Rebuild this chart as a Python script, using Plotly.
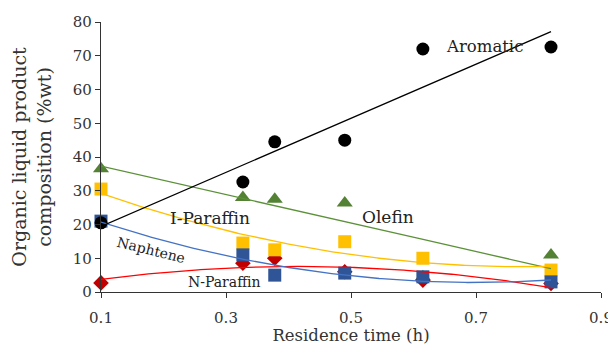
import numpy as np
import plotly.graph_objects as go

time_h = [0.1, 0.327, 0.378, 0.49, 0.615, 0.82]
aromatic = [20.5, 32.6, 44.5, 45.0, 72.0, 72.6]
olefin = [36.5, 28.0, 27.5, 26.4, 4.5, 11.0]
i_paraffin = [30.5, 14.5, 12.5, 14.9, 10.0, 6.5]
naphtene = [21.0, 11.0, 5.0, 5.6, 4.5, 3.0]
n_paraffin = [2.7, 8.5, 10.0, 6.0, 3.5, 2.5]

x_ticks = [0.1, 0.3, 0.5, 0.7, 0.9]
y_ticks = [0, 10, 20, 30, 40, 50, 60, 70, 80]

FONT = "DejaVu Serif, Liberation Serif, serif"

xf = np.linspace(min(time_h), max(time_h), 200)

def poly_fit(y, deg):
    return np.polyval(np.polyfit(np.array(time_h), np.array(y), deg), xf)

fig = go.Figure()

markers = [
    (olefin, dict(symbol="triangle-up", size=14, color="#548235")),
    (n_paraffin, dict(symbol="diamond", size=12, color="#C00000")),
    (i_paraffin, dict(symbol="square", size=13, color="#FFC000")),
    (naphtene, dict(symbol="square", size=13, color="#2F5597")),
    (aromatic, dict(symbol="circle", size=13, color="#000000")),
]
fits = [
    (poly_fit(olefin, 1), "#5B9138"),
    (poly_fit(i_paraffin, 2), "#FFC000"),
    (poly_fit(n_paraffin, 2), "#FF0000"),
    (poly_fit(naphtene, 2), "#4472C4"),
    (poly_fit(aromatic, 1), "#000000"),
]

for y, mk in markers:
    fig.add_trace(go.Scatter(x=time_h, y=y, mode="markers", marker=mk, showlegend=False, cliponaxis=False))
for fit, lc in fits:
    fig.add_trace(go.Scatter(x=xf, y=fit, mode="lines", line=dict(color=lc, width=1.3), showlegend=False, hoverinfo="skip"))

ann = [
    dict(x=0.714, y=72.8, text="Aromatic", size=16.5, angle=0),
    dict(x=0.559, y=22.3, text="Olefin", size=17, angle=0),
    dict(x=0.274, y=21.9, text="I-Paraffin", size=17, angle=0),
    dict(x=0.18, y=12.3, text="Naphtene", size=14, angle=14),
    dict(x=0.297, y=3.0, text="N-Paraffin", size=14, angle=0),
]
for a in ann:
    fig.add_annotation(x=a["x"], y=a["y"], text=a["text"], showarrow=False, textangle=a["angle"],
                       font=dict(family=FONT, size=a["size"], color="#222222"))

fig.update_layout(
    width=608, height=337,
    margin=dict(l=93, r=15, t=14, b=53),
    plot_bgcolor="white", paper_bgcolor="white",
    font=dict(family=FONT, size=15, color="#333333"),
)
fig.update_xaxes(range=[0.1, 0.9], tickvals=x_ticks, ticktext=[str(v) for v in x_ticks], automargin=False,
                 showline=True, linecolor="#333333", linewidth=1.2, ticks="outside", ticklen=5,
                 tickcolor="#333333", showgrid=False, zeroline=False, ticklabelstandoff=7,
                 title=dict(text="Residence time (h)", font=dict(family=FONT, size=16.5), standoff=6))
fig.update_yaxes(range=[0, 80], tickvals=y_ticks, showline=True, linecolor="#333333", linewidth=1.2, automargin=False,
                 ticks="outside", ticklen=5, tickcolor="#333333", showgrid=False, zeroline=False,
                 title=dict(text="Organic liquid product<br>composition (%wt)", font=dict(family=FONT, size=19), standoff=18))

fig.write_html("out.html")
